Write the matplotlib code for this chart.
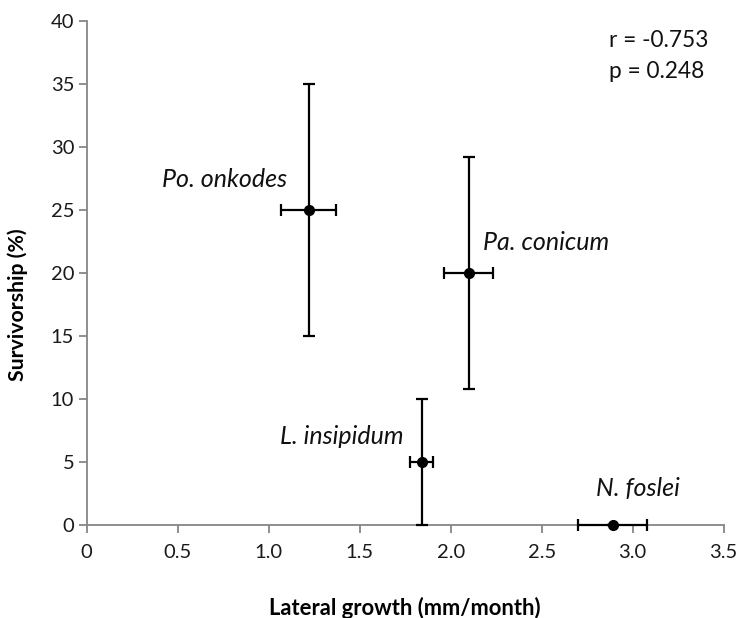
import matplotlib
matplotlib.use('Agg')
import matplotlib.pyplot as plt

plt.rcParams['font.family'] = ['Lato', 'DejaVu Sans']

# Data
species = ['Po. onkodes', 'Pa. conicum', 'L. insipidum', 'N. foslei']
growth = [1.22, 2.10, 1.84, 2.89]
growth_err = [0.15, 0.135, 0.064, 0.19]
survival = [25, 20, 5, 0]
survival_err = [10, 9.2, 5, 0]

# label anchors (x, y, horizontal alignment)
label_pos = [(1.10, 27.4, 'right'), (2.18, 22.4, 'left'),
             (1.74, 7.0, 'right'), (2.80, 2.9, 'left')]

fig = plt.figure(figsize=(7.39, 6.18), dpi=100)
ax = fig.add_axes([0.1173, 0.1505, 0.862, 0.816])

ax.errorbar(growth, survival, xerr=growth_err, yerr=survival_err,
            fmt='o', color='black', ecolor='black', markersize=7,
            elinewidth=1.6, capsize=4, capthick=1.6, clip_on=False, zorder=3)

for name, (lx, ly, ha) in zip(species, label_pos):
    ax.text(lx, ly, name, style='italic', fontsize=18, ha=ha, va='center',
            color='#111111')

ax.text(2.87, 38.4, 'r = -0.753', fontsize=16.3, va='center', color='#111111')
ax.text(2.87, 36.0, 'p = 0.248', fontsize=16.3, va='center', color='#111111')

ax.set_xlim(0, 3.5)
ax.set_ylim(0, 40)
ax.set_xticks([0, 0.5, 1.0, 1.5, 2.0, 2.5, 3.0, 3.5])
ax.set_xticklabels(['0', '0.5', '1.0', '1.5', '2.0', '2.5', '3.0', '3.5'])
ax.set_yticks(range(0, 41, 5))

for side in ['top', 'right']:
    ax.spines[side].set_visible(False)
for side in ['left', 'bottom']:
    ax.spines[side].set_color('#868686')
    ax.spines[side].set_linewidth(1.3)

ax.tick_params(axis='both', direction='out', length=6, width=1.3,
               color='#868686', labelsize=14.5, labelcolor='#1a1a1a')
ax.tick_params(axis='x', pad=8)
ax.tick_params(axis='y', pad=3)

ax.set_xlabel('Lateral growth (mm/month)', fontsize=15.8, fontweight='bold')
ax.set_ylabel('Survivorship (%)', fontsize=15.3, fontweight='bold')
ax.xaxis.set_label_coords(0.5, -0.142)
ax.yaxis.set_label_coords(-0.092, 0.436)

fig.savefig('out.png', dpi=100)
